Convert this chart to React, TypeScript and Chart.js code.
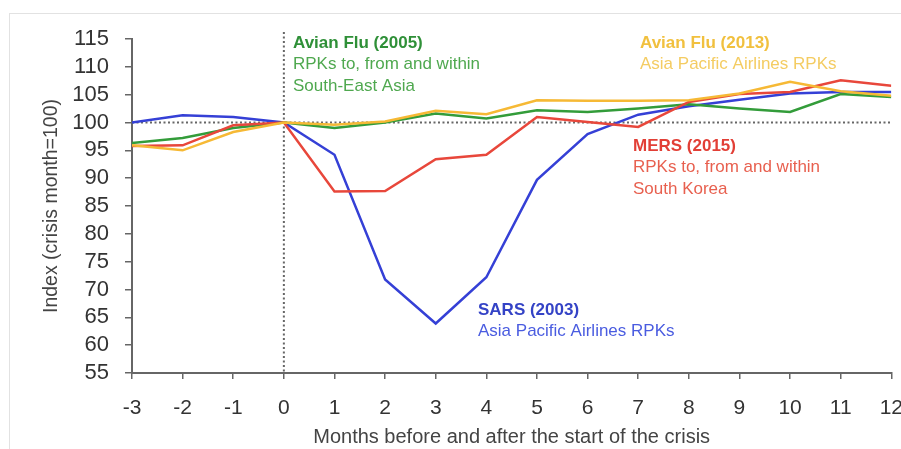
import React, { useEffect, useRef } from "react";
import { Chart, registerables } from "chart.js";

Chart.register(...registerables);

const months = [-3, -2, -1, 0, 1, 2, 3, 4, 5, 6, 7, 8, 9, 10, 11, 12];
const sars2003 = [100, 101.3, 101, 100, 94.2, 71.8, 63.9, 72.2, 89.7, 97.9, 101.4, 102.9, 104.1, 105.2, 105.5, 105.5];
const mers2015 = [95.8, 95.9, 99.5, 100, 87.6, 87.7, 93.4, 94.2, 101.0, 100.1, 99.2, 103.7, 105.1, 105.5, 107.6, 106.6];
const avianFlu2005 = [96.3, 97.2, 99.0, 100, 99.0, 100.0, 101.6, 100.7, 102.2, 101.9, 102.5, 103.3, 102.5, 101.9, 105.1, 104.6];
const avianFlu2013 = [95.9, 95.0, 98.3, 100, 99.6, 100.2, 102.1, 101.5, 104.0, 103.9, 103.9, 104.0, 105.2, 107.3, 105.6, 104.8];

const yTicks = [55, 60, 65, 70, 75, 80, 85, 90, 95, 100, 105, 110, 115];
const xTitle = "Months before and after the start of the crisis";
const yTitle = "Index (crisis month=100)";

const annotations = [
  { px: 293, py: 43, title: "Avian Flu (2005)", lines: ["RPKs to, from and within", "South-East Asia"], titleColor: "#2f9038", color: "#4fa84f" },
  { px: 640, py: 43, title: "Avian Flu (2013)", lines: ["Asia Pacific Airlines RPKs"], titleColor: "#f1c03e", color: "#f4cc62" },
  { px: 633, py: 146, title: "MERS (2015)", lines: ["RPKs to, from and within", "South Korea"], titleColor: "#e23f36", color: "#e8604f" },
  { px: 478, py: 310, title: "SARS (2003)", lines: ["Asia Pacific Airlines RPKs"], titleColor: "#3443c6", color: "#4a5ce0" },
];

const FONT = "'Liberation Sans', Arial, sans-serif";

const toPoints = (vals: number[]) => months.map((m, i) => ({ x: m, y: vals[i] }));

const refLines = {
  id: "refLines",
  beforeDatasetsDraw(chart: any) {
    const { ctx, chartArea, scales } = chart;
    const y100 = scales.y.getPixelForValue(100);
    const x0 = scales.x.getPixelForValue(0);
    ctx.save();
    ctx.strokeStyle = "#666";
    ctx.lineWidth = 2;
    ctx.setLineDash([2, 2.5]);
    ctx.beginPath();
    ctx.moveTo(chartArea.left, y100);
    ctx.lineTo(chartArea.right, y100);
    ctx.stroke();
    ctx.beginPath();
    ctx.moveTo(x0, chartArea.top - 7);
    ctx.lineTo(x0, chartArea.bottom);
    ctx.stroke();
    ctx.restore();
  },
};

const labels = {
  id: "labels",
  afterDatasetsDraw(chart: any) {
    const { ctx } = chart;
    ctx.save();
    ctx.textAlign = "left";
    ctx.textBaseline = "middle";
    annotations.forEach((a) => {
      ctx.font = `bold 17px ${FONT}`;
      ctx.fillStyle = a.titleColor;
      ctx.fillText(a.title, a.px, a.py);
      ctx.font = `17px ${FONT}`;
      ctx.fillStyle = a.color;
      a.lines.forEach((l, i) => ctx.fillText(l, a.px, a.py + 21.5 * (i + 1)));
    });
    ctx.restore();
  },
};

export default function App() {
  const ref = useRef<HTMLCanvasElement>(null);
  useEffect(() => {
    if (!ref.current) return;
    const chart = new Chart(ref.current, {
      type: "line",
      data: {
        datasets: [
          { label: "Avian Flu (2013)", data: toPoints(avianFlu2013), borderColor: "#f6b935", borderWidth: 2.5, pointRadius: 0, tension: 0 },
          { label: "MERS (2015)", data: toPoints(mers2015), borderColor: "#e8473b", borderWidth: 2.5, pointRadius: 0, tension: 0 },
          { label: "Avian Flu (2005)", data: toPoints(avianFlu2005), borderColor: "#339c3a", borderWidth: 2.5, pointRadius: 0, tension: 0 },
          { label: "SARS (2003)", data: toPoints(sars2003), borderColor: "#3540d6", borderWidth: 2.5, pointRadius: 0, tension: 0 },
        ],
      },
      options: {
        responsive: false,
        animation: false,
        events: [],
        layout: { padding: { top: 39, right: 28, left: 0, bottom: 0 } },
        plugins: { legend: { display: false }, tooltip: { enabled: false } },
        scales: {
          x: {
            type: "linear",
            min: -3,
            max: 12,
            afterFit: (s: any) => { s.height = 76; },
            afterBuildTicks: (s: any) => { s.ticks = months.map((v) => ({ value: v })); },
            border: { color: "#666", width: 2 },
            grid: { drawOnChartArea: false, drawTicks: true, tickLength: 6, color: "#666", lineWidth: 1.5 },
            ticks: { color: "#333", font: { family: FONT, size: 21 }, padding: 17, maxRotation: 0, autoSkip: false },
            title: { display: true, text: xTitle, color: "#444", font: { family: FONT, size: 20 }, padding: { top: 0, bottom: 0 } },
          },
          y: {
            type: "linear",
            min: 55,
            max: 115,
            afterFit: (s: any) => { s.width = 132; },
            afterBuildTicks: (s: any) => { s.ticks = yTicks.map((v) => ({ value: v })); },
            border: { color: "#666", width: 2 },
            grid: { drawOnChartArea: false, drawTicks: true, tickLength: 7, color: "#666", lineWidth: 1.5 },
            ticks: { color: "#333", font: { family: FONT, size: 22 }, padding: 16, autoSkip: false },
            title: { display: true, text: yTitle, color: "#444", font: { family: FONT, size: 19.5 }, padding: { top: 40, bottom: 0 } },
          },
        },
      },
      plugins: [refLines, labels],
    });
    return () => chart.destroy();
  }, []);

  return (
    <div style={{ position: "fixed", left: 0, top: 0, width: 901, height: 449, overflow: "hidden", background: "#fff" }}>
      <div style={{ position: "absolute", left: 9, top: 13, width: 1000, height: 1000, border: "1px solid #e2e2e2" }} />
      <canvas ref={ref} width={920} height={449} style={{ position: "absolute", left: 0, top: 0 }} />
    </div>
  );
}
